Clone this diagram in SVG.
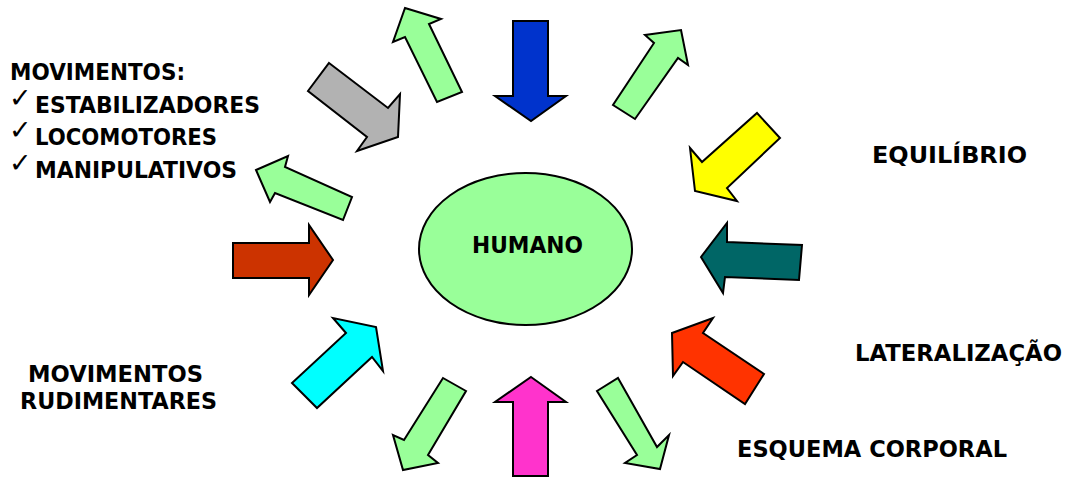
<svg xmlns="http://www.w3.org/2000/svg" width="1071" height="480" viewBox="0 0 1071 480">
<style>
.a{stroke:#000;stroke-width:2;stroke-linejoin:miter}
.g{fill:#99FF99}
.t{font-family:"DejaVu Sans","Liberation Sans",sans-serif;font-weight:bold;font-size:23px;fill:#000}
.ck{font-family:"DejaVu Sans","Liberation Sans",sans-serif;font-size:27px;fill:#000}
</style>
<rect width="1071" height="480" fill="#fff"/>
<g id="connectors"></g>
<g id="humano">
<ellipse cx="525.5" cy="249" rx="106.5" ry="76" class="a g"/>
<text class="t" x="472" y="253" textLength="111" lengthAdjust="spacingAndGlyphs">HUMANO</text>
</g>
<g id="arrow-top-blue"><polygon class="a" fill="#0033CC" points="513,21 548,21 548,96 566,96 531,121 495,96 513,96"/></g>
<g id="arrow-top-right-green"><polygon class="a g" points="681,30 688,65 678,58 635,119 613,105 654,43 645,35"/></g>
<g id="arrow-top-left-green"><polygon class="a g" points="405,8 441,19 429,24 462,92 437,102 405,37 393,42"/></g>
<g id="arrow-gray"><polygon class="a" fill="#B2B2B2" points="329,63 388,108 400,94 398,137 357,151 367,137 308,91"/></g>
<g id="arrow-left-green"><polygon class="a g" points="256,170 288,156 285,167 352,197 343,220 275,193 270,202"/></g>
<g id="arrow-yellow"><polygon class="a" fill="#FFFF00" points="757,113 780,138 727,188 737,201 695,191 690,148 702,162"/></g>
<g id="arrow-teal"><polygon class="a" fill="#006666" points="701,257 727,223 727,242 802,245 799,280 725,277 723,293"/></g>
<g id="arrow-brown"><polygon class="a" fill="#CC3300" points="233,243 309,243 309,225 333,260 309,295 309,278 233,278"/></g>
<g id="arrow-cyan"><polygon class="a" fill="#00FFFF" points="376,327 383,371 372,357 317,408 292,383 346,333 333,318"/></g>
<g id="arrow-orange"><polygon class="a" fill="#FF3300" points="672,333 713,318 703,333 764,374 745,404 683,362 673,376"/></g>
<g id="arrow-bottom-left-green"><polygon class="a g" points="443,378 466,391 428,455 438,463 403,470 393,435 404,440"/></g>
<g id="arrow-magenta"><polygon class="a" fill="#FF33CC" points="531,377 566,402 548,402 548,476 513,476 513,402 495,402"/></g>
<g id="arrow-bottom-right-green"><polygon class="a g" points="618,378 657,447 669,435 660,469 625,463 637,455 597,391"/></g>
<g id="label-movimentos">
<text class="t" x="10" y="80" textLength="175" lengthAdjust="spacingAndGlyphs">MOVIMENTOS:</text>
<text class="ck" x="9" y="107">✓</text>
<text class="t" x="35" y="113" textLength="225" lengthAdjust="spacingAndGlyphs">ESTABILIZADORES</text>
<text class="ck" x="9" y="139">✓</text>
<text class="t" x="35" y="145" textLength="182" lengthAdjust="spacingAndGlyphs">LOCOMOTORES</text>
<text class="ck" x="9" y="172">✓</text>
<text class="t" x="35" y="178" textLength="202" lengthAdjust="spacingAndGlyphs">MANIPULATIVOS</text>
</g>
<g id="label-equilibrio"><text class="t" x="872" y="163" textLength="155" lengthAdjust="spacingAndGlyphs">EQUILÍBRIO</text></g>
<g id="label-lateralizacao"><text class="t" x="855" y="361" textLength="207" lengthAdjust="spacingAndGlyphs">LATERALIZAÇÃO</text></g>
<g id="label-esquema"><text class="t" x="737" y="457" textLength="270" lengthAdjust="spacingAndGlyphs">ESQUEMA CORPORAL</text></g>
<g id="label-rudimentares">
<text class="t" x="28" y="382" textLength="175" lengthAdjust="spacingAndGlyphs">MOVIMENTOS</text>
<text class="t" x="20" y="409" textLength="197" lengthAdjust="spacingAndGlyphs">RUDIMENTARES</text>
</g>
</svg>
